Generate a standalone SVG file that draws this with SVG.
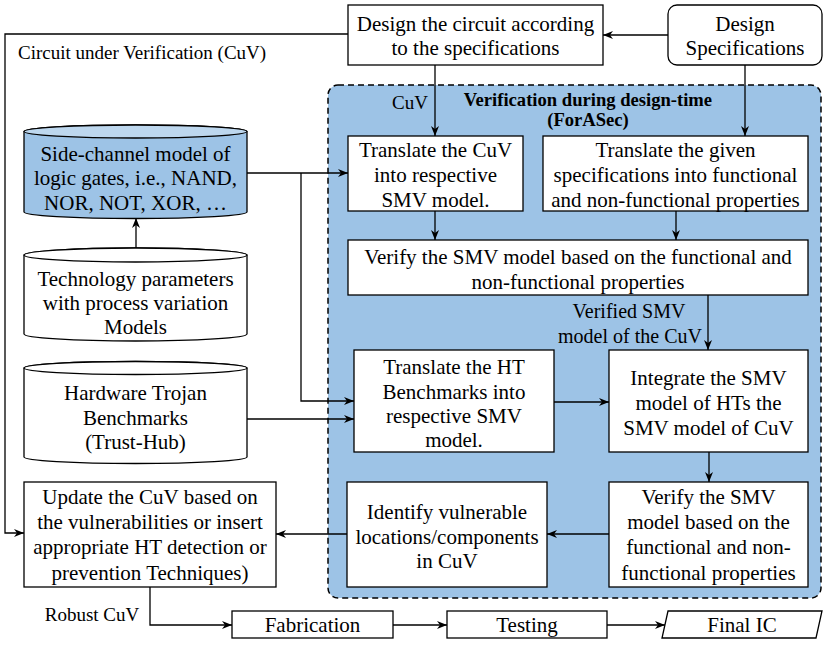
<svg xmlns="http://www.w3.org/2000/svg" width="830" height="647" viewBox="0 0 830 647">
<defs>
<marker id="arr" viewBox="0 0 10 10" refX="10" refY="5" markerWidth="10" markerHeight="10" markerUnits="userSpaceOnUse" orient="auto">
<path d="M0,1 L10,5 L0,9 L3,5 Z" fill="#000"/>
</marker>
<style>
text{font-family:"Liberation Serif","Times New Roman",serif;font-size:21px;fill:#000;text-anchor:middle}
.s{font-size:19px}
.m{font-size:20px}
.l{text-anchor:start}
.b{font-weight:bold;font-size:18.6px}
.box{fill:#fff;stroke:#000;stroke-width:1.3}
.cyl{stroke:#000;stroke-width:1.3}
.c{fill:none;stroke:#000;stroke-width:1.3;marker-end:url(#arr)}
</style>
</defs>
<rect width="830" height="647" fill="#fff"/>

<g id="region">
<rect x="328" y="85" width="493" height="513" rx="10" fill="#9DC3E6" stroke="#000" stroke-width="1.5" stroke-dasharray="6,4"/>
<text class="b" x="588" y="106">Verification during design-time</text>
<text class="b" x="588" y="126">(ForASec)</text>
</g>

<g id="connectors">
<path class="c" d="M668,35 L603,35"/>
<path class="c" d="M348,34 L5,34 L5,533 L24,533"/>
<path class="c" d="M435,65 L435,136"/>
<path class="c" d="M745,65 L745,136"/>
<path class="c" d="M435,211 L435,240"/>
<path class="c" d="M676,211 L676,240"/>
<path class="c" d="M708,295 L708,350"/>
<path class="c" d="M247,173 L348,173"/>
<path class="c" d="M301,173 L301,401 L354,401"/>
<path class="c" d="M247,419 L354,419"/>
<path class="c" d="M554,402 L609,402"/>
<path class="c" d="M709,452 L709,482"/>
<path class="c" d="M609,534 L547,534"/>
<path class="c" d="M347,534 L276,534"/>
<path class="c" d="M150,587 L150,625 L232,625"/>
<path class="c" d="M393,625 L447,625"/>
<path class="c" d="M607,625 L665,625"/>
<path class="c" d="M136,248 L136,218"/>
<text class="s l" x="18" y="59">Circuit under Verification (CuV)</text>
<text class="s" x="410" y="109">CuV</text>
<text class="m" x="629" y="318">Verified SMV</text>
<text class="m" x="630" y="343">model of the CuV</text>
<text class="s" x="92" y="621">Robust CuV</text>
</g>

<g id="design">
<rect class="box" x="348" y="5" width="255" height="60"/>
<text x="475.5" y="30.5">Design the circuit according</text>
<text x="475.5" y="55">to the specifications</text>
</g>

<g id="specs">
<rect class="box" x="668" y="5" width="154" height="60" rx="9"/>
<text x="745" y="30.5">Design</text>
<text x="745" y="55">Specifications</text>
</g>

<g id="sidechannel">
<path class="cyl" fill="#9DC3E6" d="M24,131.5 L24,212 A111.5,6.5 0 0 0 247,212 L247,131.5 A111.5,6.5 0 0 0 24,131.5 Z"/>
<ellipse class="cyl" fill="#BDD7EE" cx="135.5" cy="131.5" rx="111.5" ry="6.5"/>
<text x="135.5" y="160.5">Side-channel model of</text>
<text x="135.5" y="185">logic gates, i.e., NAND,</text>
<text x="135.5" y="209.5">NOR, NOT, XOR, …</text>
</g>

<g id="technology">
<path class="cyl" fill="#fff" d="M24,255 L24,334 A111.5,7 0 0 0 247,334 L247,255 A111.5,7 0 0 0 24,255 Z"/>
<ellipse class="cyl" fill="#fff" cx="135.5" cy="255" rx="111.5" ry="7"/>
<text x="135.5" y="286">Technology parameters</text>
<text x="135.5" y="310">with process variation</text>
<text x="135.5" y="334">Models</text>
</g>

<g id="trojan">
<path class="cyl" fill="#fff" d="M24,368 L24,457 A111.5,6.5 0 0 0 247,457 L247,368 A111.5,6.5 0 0 0 24,368 Z"/>
<ellipse class="cyl" fill="#fff" cx="135.5" cy="368" rx="111.5" ry="6.5"/>
<text x="135.5" y="400">Hardware Trojan</text>
<text x="135.5" y="424.5">Benchmarks</text>
<text x="135.5" y="449">(Trust-Hub)</text>
</g>

<g id="translateCuV">
<rect class="box" x="348" y="136" width="175" height="75"/>
<text x="435.5" y="156.5">Translate the CuV</text>
<text x="435.5" y="181.5">into respective</text>
<text x="435.5" y="206.5">SMV model.</text>
</g>

<g id="translateSpecs">
<rect class="box" x="543" y="136" width="265" height="75"/>
<text x="675.5" y="156.5">Translate the given</text>
<text x="675.5" y="181.5">specifications into functional</text>
<text x="675.5" y="206.5">and non-functional properties</text>
</g>

<g id="verify1">
<rect class="box" x="348" y="240" width="460" height="55"/>
<text x="578" y="264">Verify the SMV model based on the functional and</text>
<text x="578" y="289">non-functional properties</text>
</g>

<g id="translateHT">
<rect class="box" x="354" y="350" width="200" height="102"/>
<text x="454" y="374">Translate the HT</text>
<text x="454" y="399">Benchmarks into</text>
<text x="454" y="423">respective SMV</text>
<text x="454" y="447">model.</text>
</g>

<g id="integrate">
<rect class="box" x="609" y="350" width="199" height="102"/>
<text x="708.5" y="385">Integrate the SMV</text>
<text x="708.5" y="410">model of HTs the</text>
<text x="708.5" y="435">SMV model of CuV</text>
</g>

<g id="verify2">
<rect class="box" x="609" y="482" width="199" height="105"/>
<text x="708.5" y="504">Verify the SMV</text>
<text x="708.5" y="529">model based on the</text>
<text x="708.5" y="554">functional and non-</text>
<text x="708.5" y="579.5">functional properties</text>
</g>

<g id="identify">
<rect class="box" x="347" y="482" width="200" height="105"/>
<text x="447" y="519">Identify vulnerable</text>
<text x="447" y="544">locations/components</text>
<text x="447" y="567.5">in CuV</text>
</g>

<g id="update">
<rect class="box" x="24" y="482" width="252" height="105"/>
<text x="150" y="504">Update the CuV based on</text>
<text x="150" y="529">the vulnerabilities or insert</text>
<text x="150" y="554">appropriate HT detection or</text>
<text x="150" y="579.5">prevention Techniques)</text>
</g>

<g id="fabrication">
<rect class="box" x="232" y="611" width="161" height="27"/>
<text x="312.5" y="632">Fabrication</text>
</g>

<g id="testing">
<rect class="box" x="447" y="611" width="160" height="27"/>
<text x="527" y="632">Testing</text>
</g>

<g id="finalIC">
<polygon class="box" points="668,611 822,611 816,638 662,638"/>
<text x="742" y="632">Final IC</text>
</g>
</svg>
